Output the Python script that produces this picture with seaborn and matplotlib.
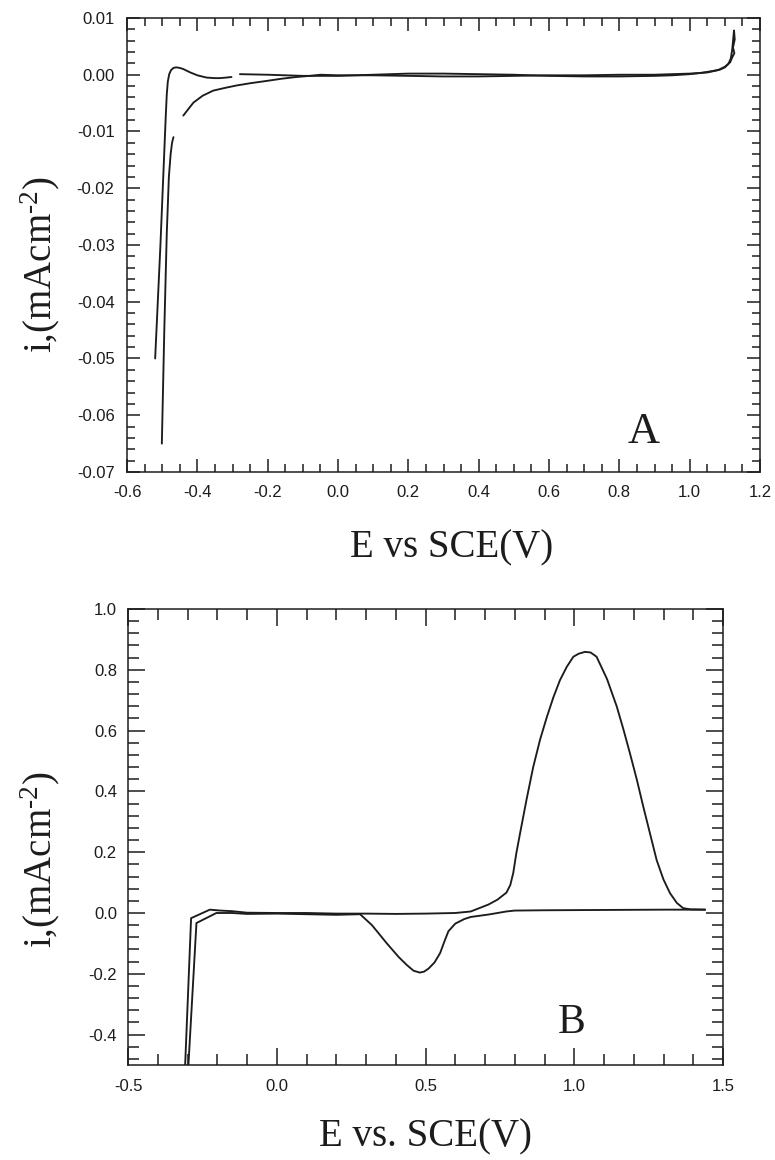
import numpy as np
import pandas as pd
import matplotlib
matplotlib.use("Agg")
import matplotlib.pyplot as plt
import seaborn as sns
from matplotlib.ticker import FixedLocator, FixedFormatter, MultipleLocator

# ---------------- data: panel A ----------------
a_branch1_x = [-0.520, -0.505, -0.495, -0.490, -0.487, -0.484, -0.480, -0.475, -0.468,
               -0.460, -0.450, -0.440, -0.420, -0.400, -0.374, -0.350, -0.336, -0.318, -0.303]
a_branch1_y = [-0.050, -0.030, -0.015, -0.0075, -0.0035, -0.0012, 0.0001, 0.0008, 0.0012,
               0.0013, 0.0012, 0.0010, 0.0004, -0.0001, -0.0005, -0.0006, -0.0006, -0.0005,
               -0.0004]

a_branch2_x = [-0.501, -0.494, -0.487, -0.481, -0.476, -0.472, -0.468]
a_branch2_y = [-0.065, -0.045, -0.028, -0.018, -0.0140, -0.0120, -0.011]

a_forward_x = [-0.279, -0.2, -0.1, 0.0, 0.1, 0.2, 0.3, 0.4, 0.5, 0.6, 0.7, 0.8, 0.9,
               0.95, 1.0, 1.03, 1.06, 1.086, 1.10, 1.110, 1.117, 1.121, 1.124, 1.126,
               1.128, 1.123, 1.127, 1.119, 1.115]
a_forward_y = [0.0001, 0.0000, -0.0002, -0.0002, 0.0000, 0.0002, 0.0002, 0.0001, 0.0000,
               -0.0002, -0.0003, -0.0003, -0.0002, -0.0001, 0.0001, 0.0003, 0.0006, 0.0009,
               0.0013, 0.0019, 0.0029, 0.0045, 0.0065, 0.0078,
               0.0062, 0.0048, 0.0038, 0.0028, 0.0022]

a_reverse_x = [1.115, 1.10, 1.08, 1.05, 1.0, 0.9, 0.8, 0.7, 0.6, 0.5, 0.4, 0.3, 0.2, 0.1,
               0.0, -0.05, -0.08, -0.119, -0.16, -0.204, -0.25, -0.289, -0.32, -0.355,
               -0.385, -0.411, -0.425, -0.440]
a_reverse_y = [0.0022, 0.0014, 0.0008, 0.0004, 0.0002, 0.0000, 0.0000, -0.0001, -0.0001,
               -0.0002, -0.0003, -0.0003, -0.0002, -0.0001, -0.0001, 0.0000, -0.0002,
               -0.0004, -0.0007, -0.0011, -0.0015, -0.0019, -0.0023, -0.0028, -0.0037,
               -0.0049, -0.0060, -0.0072]

a_xticks = [-0.6, -0.4, -0.2, 0.0, 0.2, 0.4, 0.6, 0.8, 1.0, 1.2]
a_xticklabels = ["-0.6", "-0.4", "-0.2", "0.0", "0.2", "0.4", "0.6", "0.8", "1.0", "1.2"]
a_yticks = [0.01, 0.0, -0.01, -0.02, -0.03, -0.04, -0.05, -0.06, -0.07]
a_yticklabels = ["0.01", "0.00", "-0.01", "-0.02", "-0.03", "-0.04", "-0.05", "-0.06", "-0.07"]

# ---------------- data: panel B ----------------
b_forward_x = [-0.308, -0.288, -0.225, -0.19, -0.15, -0.10, 0.0, 0.1, 0.2, 0.3, 0.4, 0.5,
               0.6, 0.652, 0.712, 0.742, 0.772, 0.785, 0.795, 0.805, 0.818, 0.84, 0.862,
               0.885, 0.908, 0.93, 0.952, 0.975, 0.997, 1.015, 1.036, 1.055, 1.075, 1.11,
               1.143, 1.165, 1.187, 1.21, 1.232, 1.255, 1.277, 1.30, 1.322, 1.345, 1.366,
               1.39, 1.44]
b_forward_y = [-0.5, -0.017, 0.011, 0.008, 0.006, 0.001, 0.0, 0.0, -0.002, -0.002, -0.003,
               -0.002, 0.0, 0.005, 0.028, 0.044, 0.067, 0.092, 0.132, 0.195, 0.263, 0.375,
               0.48, 0.57, 0.645, 0.71, 0.766, 0.81, 0.843, 0.853, 0.859, 0.857, 0.843,
               0.77, 0.679, 0.605, 0.526, 0.44, 0.35, 0.26, 0.174, 0.11, 0.065, 0.033,
               0.016, 0.012, 0.011]

b_reverse_x = [1.44, 1.3, 1.1, 0.9, 0.8, 0.772, 0.712, 0.652, 0.63, 0.60, 0.577, 0.563,
               0.549, 0.53, 0.51, 0.495, 0.481, 0.46, 0.437, 0.41, 0.37, 0.32, 0.28, 0.2,
               0.1, 0.0, -0.1, -0.15, -0.203, -0.27, -0.297]
b_reverse_y = [0.011, 0.011, 0.010, 0.009, 0.008, 0.005, -0.005, -0.013, -0.020, -0.035,
               -0.060, -0.095, -0.132, -0.163, -0.183, -0.193, -0.196, -0.190, -0.171,
               -0.145, -0.100, -0.040, -0.004, -0.006, -0.004, -0.002, -0.003, 0.0, 0.0,
               -0.033, -0.5]

b_xticks = [-0.5, 0.0, 0.5, 1.0, 1.5]
b_xticklabels = ["-0.5", "0.0", "0.5", "1.0", "1.5"]
b_yticks = [1.0, 0.8, 0.6, 0.4, 0.2, 0.0, -0.2, -0.4]
b_yticklabels = ["1.0", "0.8", "0.6", "0.4", "0.2", "0.0", "-0.2", "-0.4"]

# ---------------- style ----------------
sns.set_theme(style="ticks")
plt.rcParams.update({
    "font.family": ["Liberation Sans", "DejaVu Sans"],
    "axes.unicode_minus": False,
    "mathtext.fontset": "custom",
    "mathtext.rm": "Liberation Serif",
    "mathtext.it": "Liberation Serif:italic",
    "mathtext.bf": "Liberation Serif:bold",
    "axes.facecolor": "white",
    "figure.facecolor": "white",
})
ink = "#1c1c1c"
serif = ["Liberation Serif", "DejaVu Serif"]

fig = plt.figure(figsize=(7.75, 11.6), dpi=100)
axA = fig.add_axes([0.1639, 0.5931, 0.8168, 0.3914])
axB = fig.add_axes([0.1652, 0.0819, 0.7677, 0.3931])

def draw(ax, xs, ys):
    df = pd.DataFrame({"E": xs, "i": ys})
    sns.lineplot(data=df, x="E", y="i", ax=ax, sort=False, estimator=None,
                 color=ink, linewidth=1.35)

for xs, ys in [(a_branch1_x, a_branch1_y), (a_branch2_x, a_branch2_y),
               (a_forward_x, a_forward_y), (a_reverse_x, a_reverse_y)]:
    draw(axA, xs, ys)
for xs, ys in [(b_forward_x, b_forward_y), (b_reverse_x, b_reverse_y)]:
    draw(axB, xs, ys)

def style_axes(ax, xlim, ylim, xt, xtl, yt, ytl, xminor, yminor, maj, mnr, xpad, ypad):
    ax.set_xlim(*xlim)
    ax.set_ylim(*ylim)
    ax.xaxis.set_major_locator(FixedLocator(xt))
    ax.xaxis.set_major_formatter(FixedFormatter(xtl))
    ax.yaxis.set_major_locator(FixedLocator(yt))
    ax.yaxis.set_major_formatter(FixedFormatter(ytl))
    ax.xaxis.set_minor_locator(MultipleLocator(xminor))
    ax.yaxis.set_minor_locator(MultipleLocator(yminor))
    ax.tick_params(which="both", direction="in", top=True, right=True,
                   width=1.1, color=ink, labelcolor=ink, labelsize=12)
    ax.tick_params(which="major", length=maj)
    ax.tick_params(which="minor", length=mnr)
    ax.tick_params(axis="x", pad=xpad)
    ax.tick_params(axis="y", pad=ypad)
    for s in ax.spines.values():
        s.set_visible(True)
        s.set_color(ink)
        s.set_linewidth(1.1)
    ax.grid(False)

style_axes(axA, (-0.6, 1.2), (-0.07, 0.01), a_xticks, a_xticklabels, a_yticks,
           a_yticklabels, 0.05, 0.002, 9.4, 5.8, 9, 9)
style_axes(axB, (-0.5, 1.5), (-0.5, 1.0), b_xticks, b_xticklabels, b_yticks,
           b_yticklabels, 0.1, 0.04, 12, 8, 10, 8)

ylab = r"i,(mAcm$^{\mathrm{-}2}$)"
ylab = r"i,(mAcm$^{\text{-2}}$)"
axA.set_xlabel("E vs SCE(V)", fontsize=28, family=serif, color=ink)
axA.xaxis.set_label_coords(0.513, -0.167)
axA.xaxis.label.set_va("center")
axA.set_ylabel(ylab, fontsize=28, family=serif, color=ink)
axA.yaxis.set_label_coords(-0.137, 0.456)
axA.yaxis.label.set_va("center")

axB.set_xlabel("E vs. SCE(V)", fontsize=28, family=serif, color=ink)
axB.xaxis.set_label_coords(0.5, -0.158)
axB.xaxis.label.set_va("center")
axB.set_ylabel(ylab, fontsize=28, family=serif, color=ink)
axB.yaxis.set_label_coords(-0.148, 0.45)
axB.yaxis.label.set_va("center")

axA.text(0.87, -0.063, "A", fontsize=32, family=serif, color=ink,
         ha="center", va="center")
axB.text(0.99, -0.36, "B", fontsize=30, family=serif, color=ink,
         ha="center", va="center")

fig.savefig("out.png", dpi=100)
